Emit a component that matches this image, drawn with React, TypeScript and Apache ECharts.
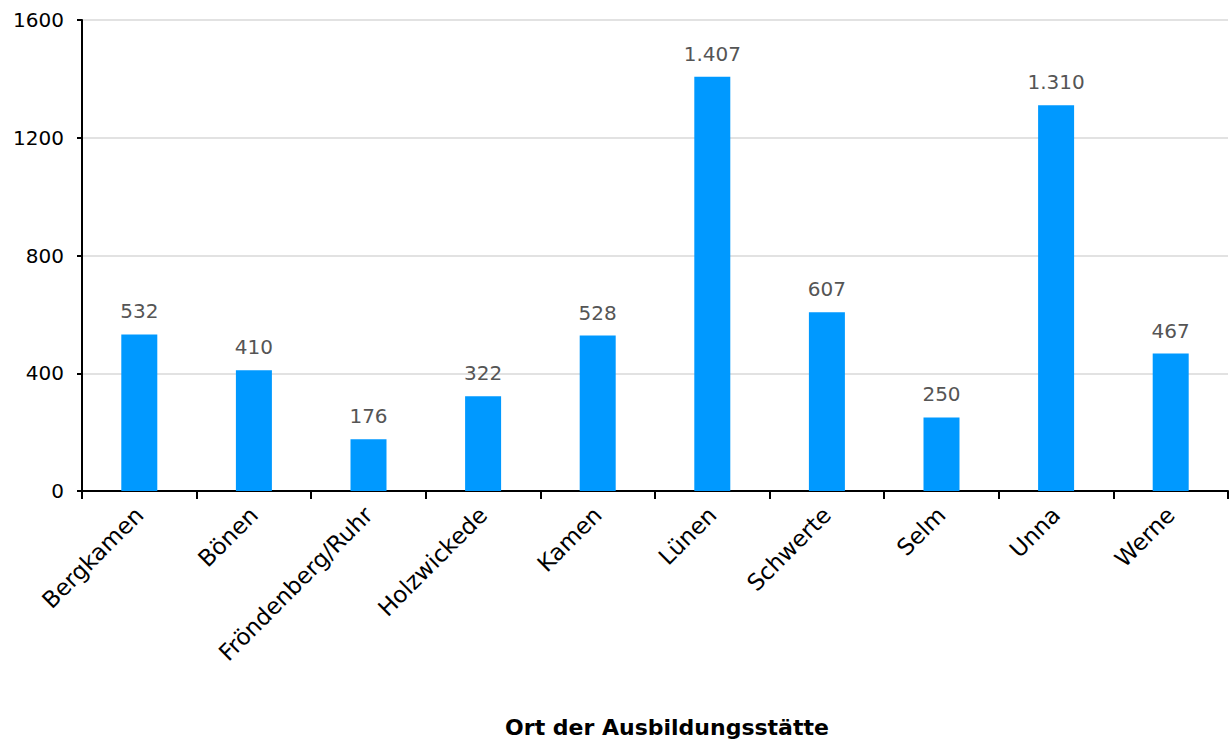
import React, { useEffect, useRef } from "react";
import * as echarts from "echarts";

const categories = ["Bergkamen", "Bönen", "Fröndenberg/Ruhr", "Holzwickede", "Kamen", "Lünen", "Schwerte", "Selm", "Unna", "Werne"];
const values = [532, 410, 176, 322, 528, 1407, 607, 250, 1310, 467];
const axisTitle = "Ort der Ausbildungsstätte";

const FONT = "DejaVu Sans";

function fmt(v: number): string {
  return String(v).replace(/\B(?=(\d{3})+(?!\d))/g, ".");
}

export default function App() {
  const ref = useRef<HTMLDivElement>(null);
  useEffect(() => {
    if (!ref.current) return;
    const chart = echarts.init(ref.current, undefined, { renderer: "svg" });
    chart.setOption({
      animation: false,
      textStyle: { fontFamily: FONT },
      grid: { left: 82, right: 4, top: 20, bottom: 249, containLabel: false },
      xAxis: {
        type: "category",
        data: categories,
        axisLine: { lineStyle: { color: "#000", width: 2 } },
        axisTick: { show: true, length: 8, lineStyle: { color: "#000", width: 2 } },
        axisLabel: { rotate: 45, color: "#000", fontSize: 23, fontFamily: FONT, margin: 20, interval: 0 },
      },
      yAxis: {
        type: "value",
        min: 0,
        max: 1600,
        interval: 400,
        axisLine: { show: true, lineStyle: { color: "#000", width: 2 } },
        axisTick: { show: true, length: 5, lineStyle: { color: "#000", width: 2 } },
        axisLabel: { color: "#000", fontSize: 20, fontFamily: FONT, margin: 18, formatter: (v: number) => String(v) },
        splitLine: { lineStyle: { color: "#d9d9d9", width: 1.5 } },
      },
      graphic: [
        {
          type: "text",
          x: 667,
          y: 727,
          style: {
            text: axisTitle,
            fontSize: 22,
            fontWeight: "bold",
            fontFamily: FONT,
            fill: "#000",
            textAlign: "center",
            textVerticalAlign: "middle",
          },
        },
      ],
      series: [
        {
          type: "bar",
          data: values,
          barWidth: 36,
          itemStyle: { color: "#0099ff" },
          label: {
            show: true,
            position: "top",
            distance: 13,
            color: "#555",
            fontSize: 20,
            fontFamily: FONT,
            formatter: (p: any) => fmt(p.value),
          },
        },
      ],
    });
    return () => chart.dispose();
  }, []);
  return <div ref={ref} style={{ width: 1232, height: 740, position: "absolute", left: 0, top: 0 }} />;
}
